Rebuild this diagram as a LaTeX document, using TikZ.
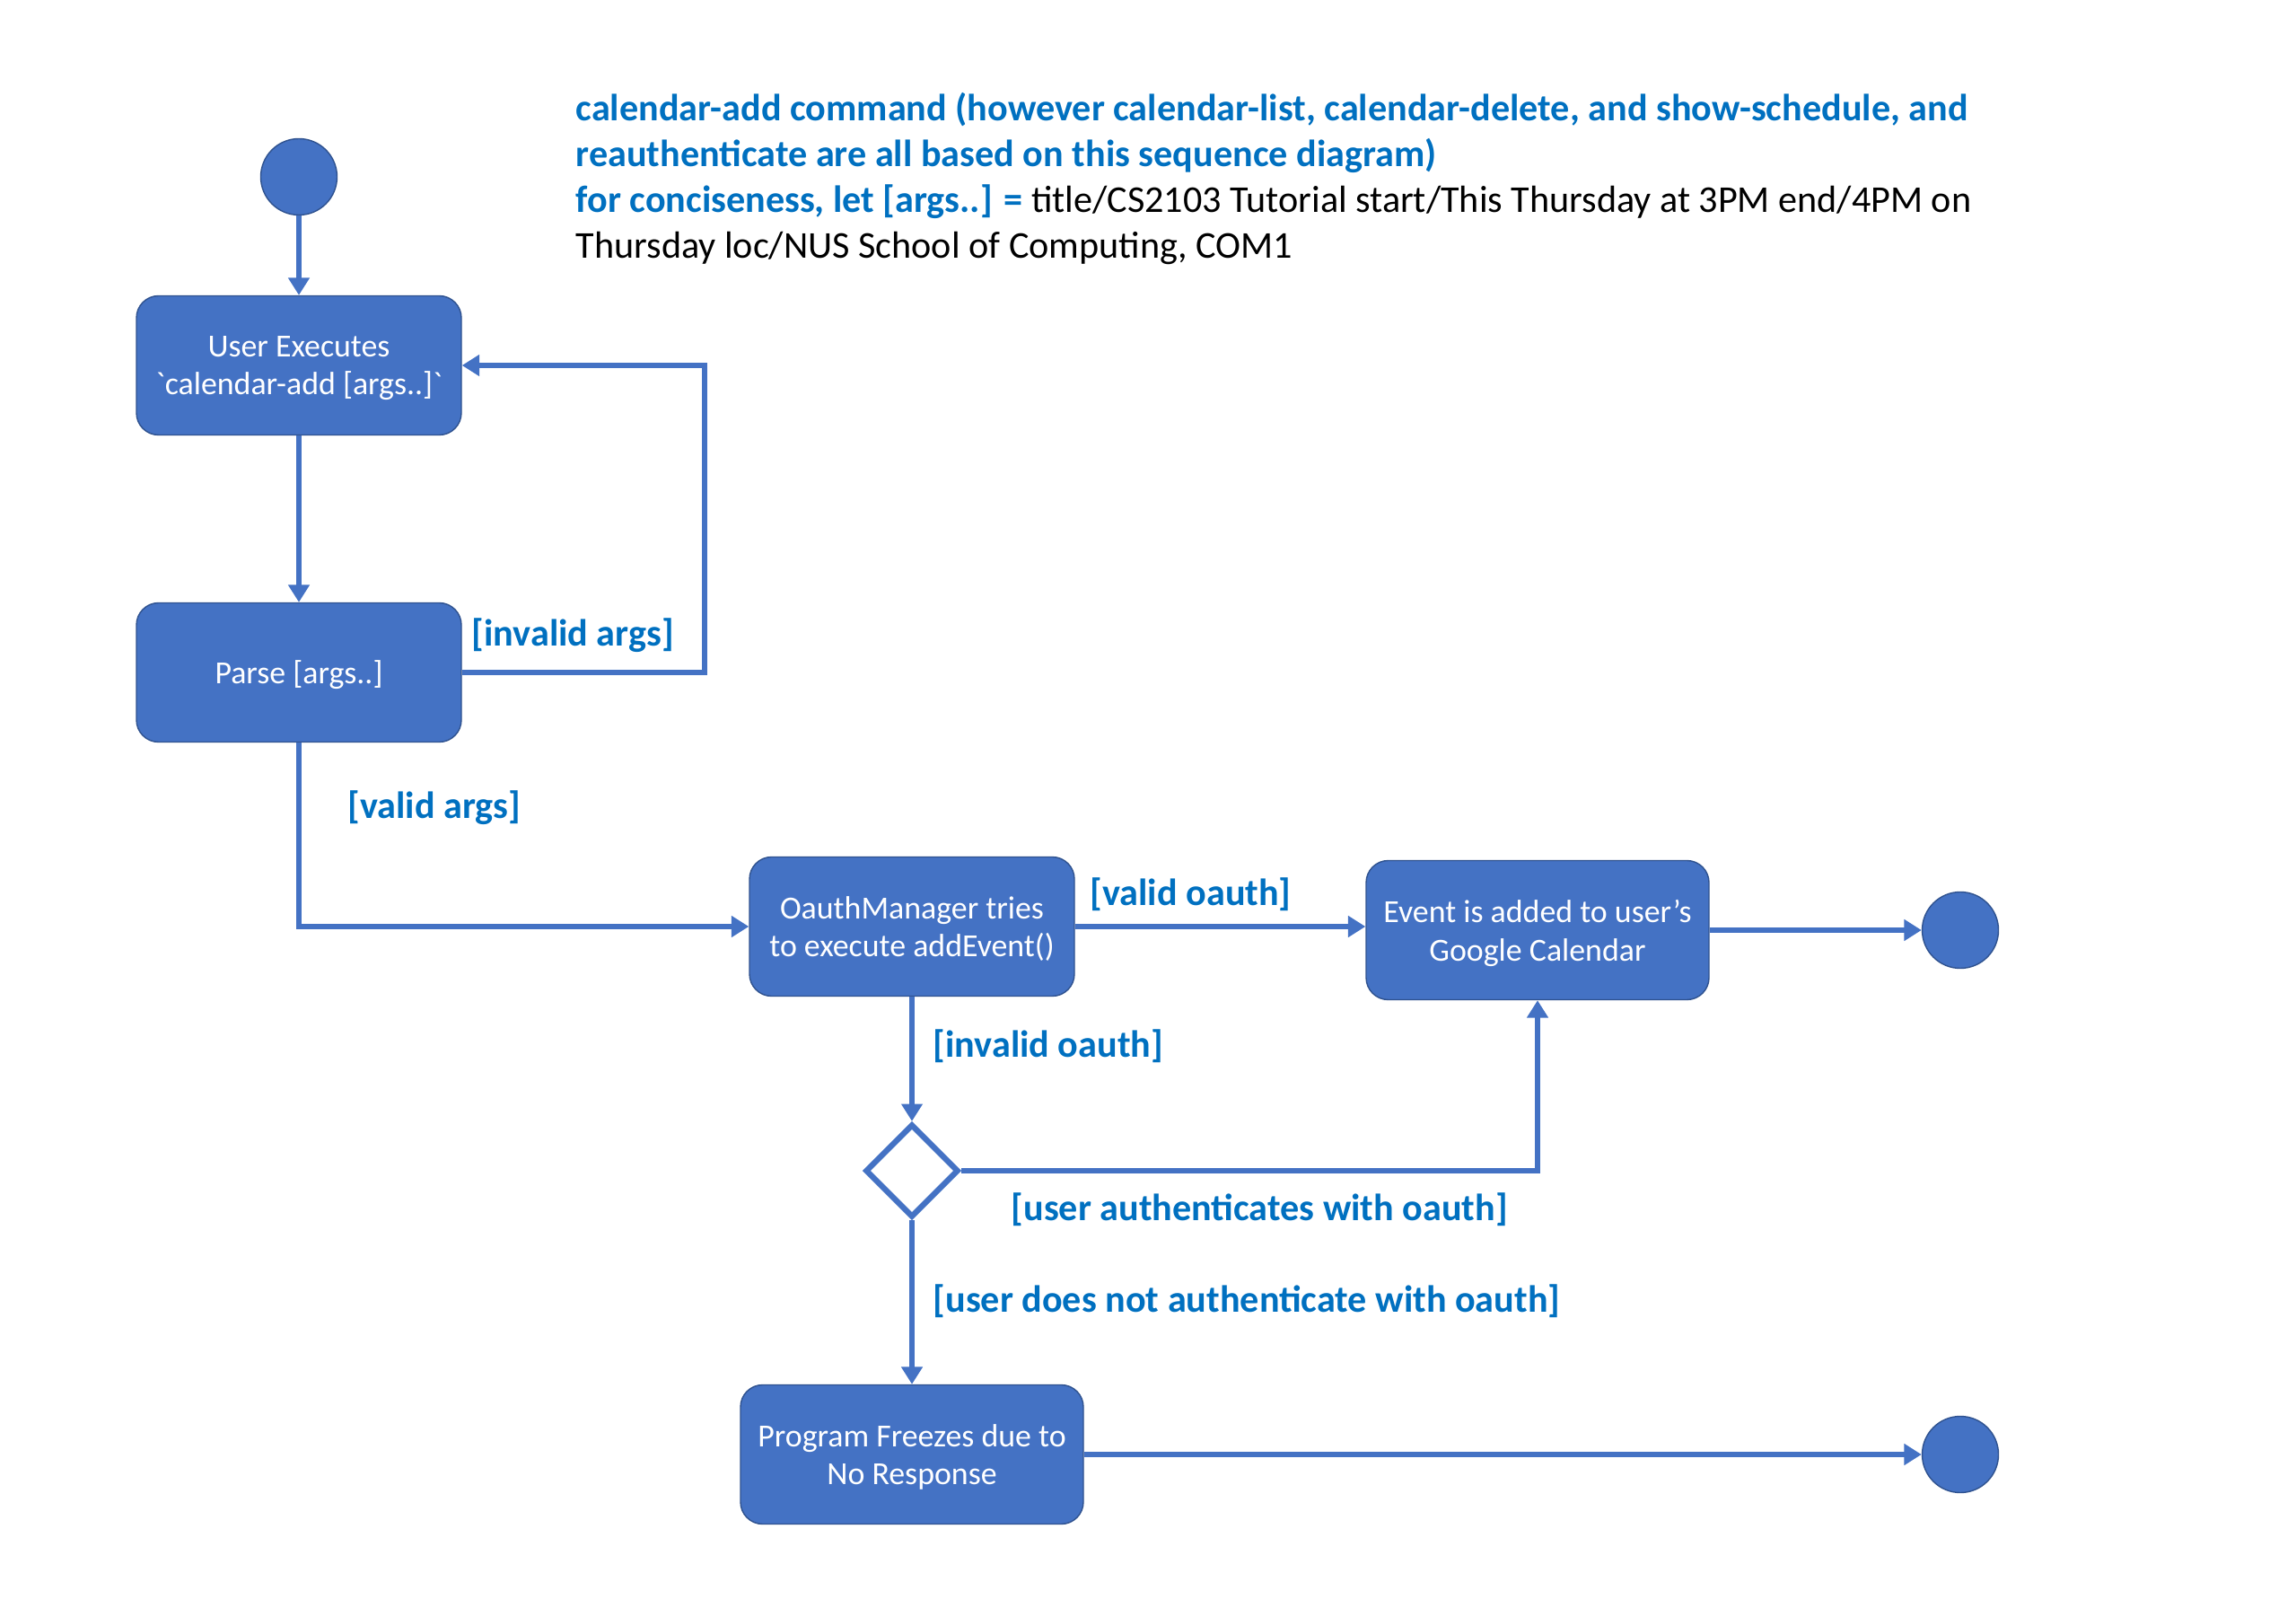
\documentclass[tikz,border=0pt]{standalone}
\usepackage{fontspec}
\setmainfont{Carlito}
\usetikzlibrary{arrows.meta,shapes.geometric}
\definecolor{boxblue}{HTML}{4472C4}
\definecolor{boxedge}{HTML}{2F528F}
\definecolor{guardblue}{HTML}{0070C0}

\begin{document}
\begin{tikzpicture}[
    activity/.style={draw=boxedge, line width=0.4pt, fill=boxblue, rounded corners=7pt, text=white,
        minimum width=3.62cm, minimum height=1.55cm, align=center, inner sep=0pt, text depth=0pt,
        font=\fontsize{10.2}{12.2}\selectfont},
    terminal/.style={circle, draw=boxedge, line width=0.4pt, fill=boxblue, minimum size=0.85cm, inner sep=0pt},
    choice/.style={diamond, draw=boxblue, line width=1.8pt, fill=white, minimum size=1.04cm, inner sep=0pt},
    flow/.style={draw=boxblue, line width=1.7pt, -{Triangle[length=5.5pt,width=6.5pt]}},
    guard/.style={text=guardblue, anchor=west, inner sep=0pt, font=\bfseries\fontsize{12}{14.5}\selectfont}
]
    \useasboundingbox (0,0) rectangle (25.58,-17.91);

    % Heading
    \node[anchor=north west, align=left, inner sep=0pt, font=\fontsize{12}{14.5}\selectfont] (heading) at (6.41,-1.03)
        {\textcolor{guardblue}{\bfseries calendar-add command (however calendar-list, calendar-delete, and show-schedule, and}\\
         \textcolor{guardblue}{\bfseries reauthenticate are all based on this sequence diagram)}\\
         \textcolor{guardblue}{\bfseries for conciseness, let [args..] =} title/CS2103 Tutorial start/This Thursday at 3PM end/4PM on\\
         Thursday loc/NUS School of Computing, COM1};

    % Activities
    \node[terminal] (start) at (3.33,-1.97) {};
    \node[activity] (userexec) at (3.33,-4.07) {User Executes\\\textasciigrave calendar-add [args..]\textasciigrave};
    \node[activity] (parse) at (3.33,-7.49) {Parse [args..]};
    \node[activity] (oauth) at (10.16,-10.32) {OauthManager tries\\to execute addEvent()};
    \node[activity, minimum width=3.82cm] (event) at (17.13,-10.36) {Event is added to user's\\Google Calendar};
    \node[terminal] (endok) at (21.84,-10.36) {};
    \node[choice] (decide) at (10.16,-13.04) {};
    \node[activity, minimum width=3.82cm] (freeze) at (10.16,-16.20) {Program Freezes due to\\No Response};
    \node[terminal] (endfail) at (21.84,-16.20) {};

    % Transitions
    \coordinate (argsturn) at (7.85,-7.49);
    \draw[flow] (start) -- (userexec);
    \draw[flow] (userexec) -- (parse);
    \draw[flow] (parse.east) -- (argsturn) |- (userexec.east);
    \draw[flow] (parse.south) |- (oauth.west);
    \draw[flow] (oauth.east) -- (oauth.east -| event.west);
    \draw[flow] (event) -- (endok);
    \draw[flow] (oauth) -- (decide);
    \draw[flow] (decide.east) -| (event.south);
    \draw[flow] (decide) -- (freeze);
    \draw[flow] (freeze) -- (endfail);

    % Guards
    \node[guard] (invalidargs) at (5.25,-7.08) {[invalid args]};
    \node[guard] (validargs) at (3.87,-9.00) {[valid args]};
    \node[guard] (validoauth) at (12.14,-9.96) {[valid oauth]};
    \node[guard] (invalidoauth) at (10.39,-11.65) {[invalid oauth]};
    \node[guard] (userauth) at (11.26,-13.47) {[user authenticates with oauth]};
    \node[guard] (usernoauth) at (10.39,-14.49) {[user does not authenticate with oauth]};
\end{tikzpicture}
\end{document}
